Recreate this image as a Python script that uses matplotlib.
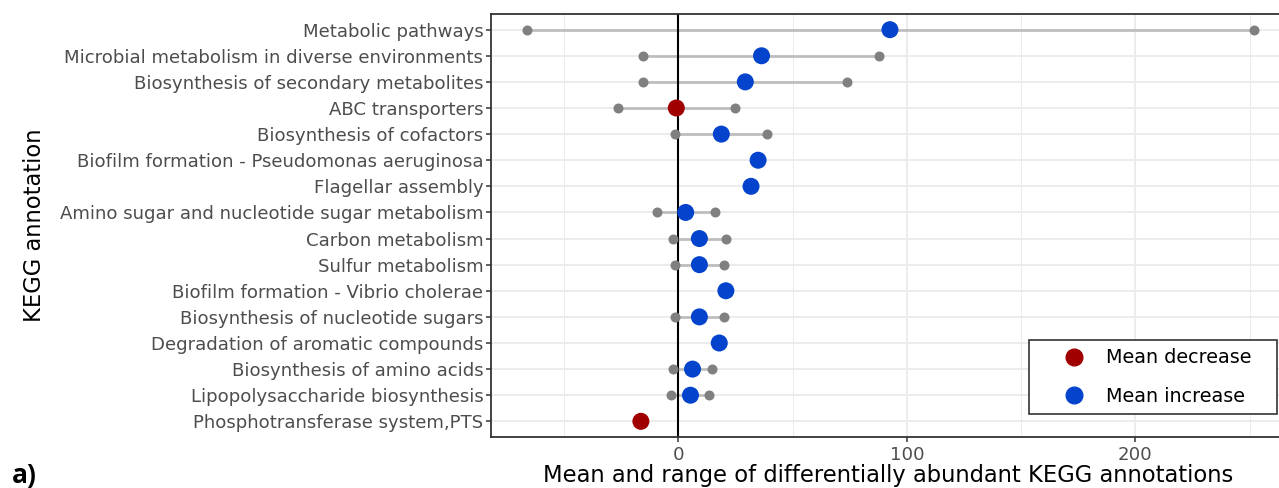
import matplotlib
matplotlib.use("Agg")
import matplotlib.pyplot as plt
import numpy as np
from matplotlib.lines import Line2D
from matplotlib.patches import Rectangle

categories = [
    "Metabolic pathways",
    "Microbial metabolism in diverse environments",
    "Biosynthesis of secondary metabolites",
    "ABC transporters",
    "Biosynthesis of cofactors",
    "Biofilm formation - Pseudomonas aeruginosa",
    "Flagellar assembly",
    "Amino sugar and nucleotide sugar metabolism",
    "Carbon metabolism",
    "Sulfur metabolism",
    "Biofilm formation - Vibrio cholerae",
    "Biosynthesis of nucleotide sugars",
    "Degradation of aromatic compounds",
    "Biosynthesis of amino acids",
    "Lipopolysaccharide biosynthesis",
    "Phosphotransferase system,PTS",
]
mean_vals = [92.6, 36.4, 29.3, -0.9, 18.8, 34.9, 31.8, 3.2, 9.2, 9.2, 20.8, 9.2, 17.9, 6.2, 5.3, -16.4]
min_vals = [-66.4, -15.4, -15.4, -26.3, -1.3, np.nan, np.nan, -9.4, -2.5, -1.3, np.nan, -1.3, np.nan, -2.5, -3.4, np.nan]
max_vals = [252.0, 87.9, 74.0, 24.8, 38.7, np.nan, np.nan, 16.0, 20.8, 19.9, np.nan, 19.9, np.nan, 14.8, 13.6, np.nan]

RED = "#A00000"
BLUE = "#0443CC"
W, H = 1279, 488
fig = plt.figure(figsize=(W / 100, H / 100), dpi=100)
left, right, top, bottom = 491, 1285, 14, 437
ax = fig.add_axes([left / W, 1 - bottom / H, (right - left) / W, (bottom - top) / H])

n = len(categories)
y = np.arange(n)[::-1]

ax.set_xlim(-82, 265.5)
ax.set_ylim(-0.6, n - 1 + 0.6)

ax.set_xticks([0, 100, 200])
ax.set_xticks([-50, 50, 150, 250], minor=True)
ax.grid(True, which="major", color="#EBEBEB", lw=1.3, zorder=0)
ax.grid(True, which="minor", axis="x", color="#EBEBEB", lw=0.7, zorder=0)
ax.set_axisbelow(True)
ax.set_yticks(y)
ax.set_yticklabels(categories)

ax.axvline(0, color="black", lw=1.5, zorder=2.5)

for yi, lo, hi in zip(y, min_vals, max_vals):
    if not np.isnan(lo):
        ax.plot([lo, hi], [yi, yi], color="#BEBEBE", lw=2, zorder=2, solid_capstyle="butt")
        ax.scatter([lo, hi], [yi, yi], s=52, color="#808080", zorder=3, linewidths=0)

colors = [RED if m < 0 else BLUE for m in mean_vals]
ax.scatter(mean_vals, y, s=150, c=colors, zorder=4, linewidths=0)

for s in ax.spines.values():
    s.set_color("#333333")
    s.set_linewidth(1.3)

ax.tick_params(axis="both", which="major", length=3.5, width=1.1, color="#333333",
               labelcolor="#4D4D4D", labelsize=13.1)
ax.tick_params(axis="x", which="minor", length=0)
ax.tick_params(axis="y", pad=2)
ax.tick_params(axis="x", pad=3)

ax.set_xlabel("Mean and range of differentially abundant KEGG annotations", fontsize=16.3, labelpad=0)
ax.set_ylabel("KEGG annotation", fontsize=16.3, va="center")
ax.yaxis.set_label_coords((35 - left) / (right - left), 0.5)

# legend (frame drawn separately to match the reference box)
handles = [
    Line2D([], [], marker="o", ls="", color=RED, markersize=12, label="Mean decrease"),
    Line2D([], [], marker="o", ls="", color=BLUE, markersize=12, label="Mean increase"),
]
fs = 13.8
fs_px = fs * 100 / 72
leg = fig.legend(handles=handles, loc="center left",
                 bbox_to_anchor=((1074 - fs_px) / W, 1 - 377 / H),
                 frameon=False, fontsize=fs, handlelength=2.0, handletextpad=0.67,
                 labelspacing=1.0, borderpad=0, borderaxespad=0)
fig.add_artist(Rectangle((1029 / W, 1 - 414 / H), (1277 - 1029) / W, (414 - 340) / H,
                         transform=fig.transFigure, facecolor="white", edgecolor="#333333",
                         lw=1.2, zorder=leg.get_zorder() - 0.1))

fig.text(12 / W, 1 - 476 / H, "a)", fontsize=19, fontweight="bold", va="center", ha="left",
         family="Open Sans")

fig.savefig("out.png", dpi=100)
